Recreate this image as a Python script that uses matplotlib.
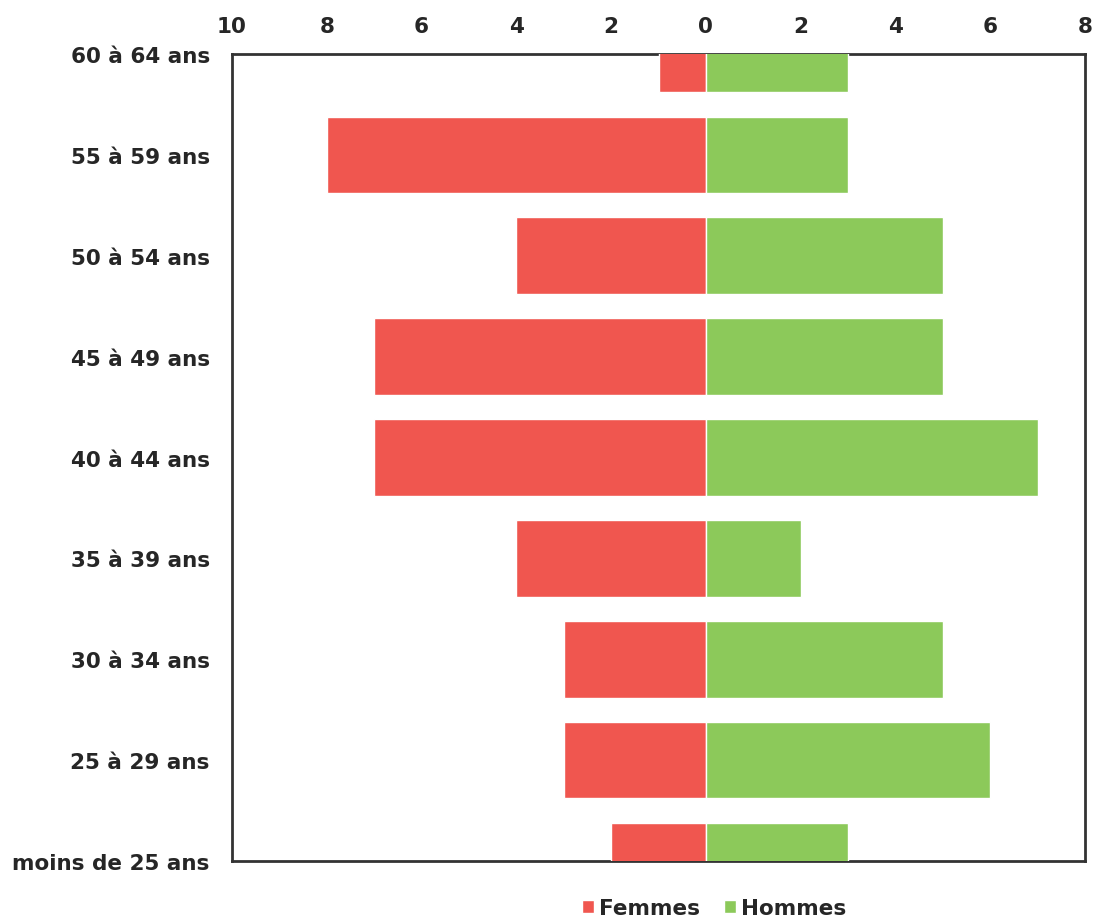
import matplotlib
matplotlib.use("Agg")
import matplotlib.pyplot as plt
from matplotlib.ticker import FuncFormatter

categories = ["moins de 25 ans", "25 à 29 ans", "30 à 34 ans", "35 à 39 ans",
              "40 à 44 ans", "45 à 49 ans", "50 à 54 ans", "55 à 59 ans",
              "60 à 64 ans"]
femmes = [2, 3, 3, 4, 7, 7, 4, 8, 1]
hommes = [3, 6, 5, 2, 7, 5, 5, 3, 3]
xticks = [-10, -8, -6, -4, -2, 0, 2, 4, 6, 8]

RED = "#F0564F"
GREEN = "#8CC95A"

plt.rcParams["font.family"] = ["DejaVu Sans"]

fig = plt.figure(figsize=(11, 9.2), dpi=100)
ax = fig.add_axes([0.2109, 0.063, 0.7755, 0.8772])

y = list(range(len(categories)))
ax.barh(y, [-v for v in femmes], height=0.76, color=RED, edgecolor="white",
        linewidth=1.0, label="Femmes", zorder=3)
ax.barh(y, hommes, height=0.76, color=GREEN, edgecolor="white",
        linewidth=1.0, label="Hommes", zorder=3)

ax.set_xlim(-10, 8)
ax.set_ylim(0, len(categories) - 1)
ax.set_yticks(y)
ax.set_yticklabels(categories)
ax.set_xticks(xticks)
ax.xaxis.set_major_formatter(FuncFormatter(lambda v, p: f"{abs(int(v))}"))
ax.xaxis.tick_top()
ax.tick_params(axis="both", length=0, labelsize=15.5, colors="#262626")
ax.tick_params(axis="y", pad=16)
ax.tick_params(axis="x", pad=13)
for lab in ax.get_xticklabels() + ax.get_yticklabels():
    lab.set_fontweight("semibold")

for s in ax.spines.values():
    s.set_color("#333333")
    s.set_linewidth(2.0)
    s.set_zorder(2)

leg = ax.legend(loc="upper center", bbox_to_anchor=(0.565, -0.022), ncol=2,
                frameon=False, fontsize=15.5, handlelength=0.55, handleheight=0.55,
                handletextpad=0.25, columnspacing=1.1)
for t in leg.get_texts():
    t.set_fontweight("semibold")
    t.set_color("#262626")

fig.savefig("out.png", dpi=100, facecolor="white")
